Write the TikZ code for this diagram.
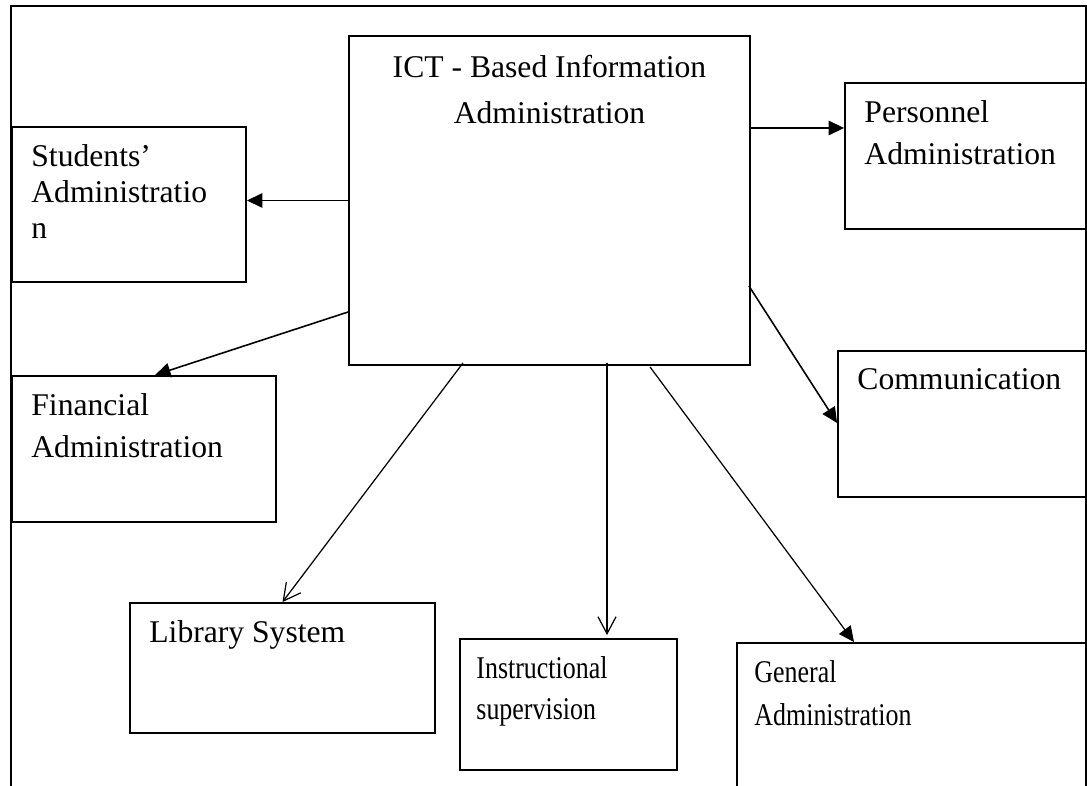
\documentclass[tikz,border=0pt]{standalone}
\usepackage{fontspec}
\setmainfont{Liberation Serif}
\newfontfamily\narrowserif[FakeStretch=0.82]{Liberation Serif}
\usetikzlibrary{arrows.meta, calc}
\newcommand{\blkfont}{\fontsize{18}{24}\selectfont}

\begin{document}
\begin{tikzpicture}[x=0.02cm, y=-0.02cm,
  blk/.style={draw, line width=1.1pt, inner sep=0pt},
  lbl/.style={anchor=north west, align=left, inner xsep=0.4cm, inner ysep=0.36cm, font=\blkfont},
  fillarr/.style={line width=0.9pt, -{Triangle[length=0.31cm, width=0.29cm]}},
  openarr/.style={line width=0.7pt, -{Straight Barb[length=0.34cm, width=0.36cm]}}]
  \useasboundingbox (0,0) rectangle (1087,786);

  % Outer frame, open at the bottom
  \draw[line width=1.1pt] (11,786) -- (11,6) -- (1086,6) -- (1086,786);

  % Central block
  \node[blk, minimum width=8.02cm, minimum height=6.58cm,
    label={[lbl, anchor=north, align=center, inner ysep=0.4cm, font=\fontsize{18}{26}\selectfont]north:ICT - Based Information\\Administration}] (ict) at (549.5,200.5) {};

  % Surrounding blocks
  \node[blk, minimum width=4.68cm, minimum height=3.1cm,
    label={[lbl, font=\fontsize{18}{20.5}\selectfont]north west:Students’\\Administratio\\n}] (stud) at (129,204.5) {};
  \node[blk, minimum width=4.82cm, minimum height=2.92cm,
    label={[lbl]north west:Personnel\\Administration}] (pers) at (965.5,156) {};
  \node[blk, minimum width=4.96cm, minimum height=2.92cm,
    label={[lbl]north west:Communication}] (comm) at (962,424) {};
  \node[blk, minimum width=5.28cm, minimum height=2.92cm,
    label={[lbl]north west:Financial\\Administration}] (fin) at (144,449) {};
  \node[blk, minimum width=6.10cm, minimum height=2.60cm,
    label={[lbl]north west:Library System}] (lib) at (282.5,668) {};
  \node[blk, minimum width=4.34cm, minimum height=2.62cm,
    label={[lbl, inner xsep=0.34cm, font=\narrowserif\fontsize{18}{23.2}\selectfont]north west:Instructional\\supervision}] (instr) at (568.5,704.5) {};
  \node[blk, minimum width=6.98cm, minimum height=3.2cm,
    label={[lbl, inner xsep=0.36cm, font=\narrowserif\fontsize{18}{24.4}\selectfont]north west:General\\Administration}] (gen) at (911.5,723) {};

  % Connectors
  \draw[fillarr] (ict.west) -- (ict.west -| stud.east);
  \draw[fillarr] ($(ict.east)+(-2,-72.5)$) -- ($(pers.west)+(0,-28)$);
  \draw[fillarr] ($(ict.east)+(-2,85.5)$) -- ($(comm.west)+(0,-1)$);
  \draw[fillarr] ($(ict.west)+(0,111.5)$) -- ($(fin.north)+(11,0)$);
  \draw[openarr] ($(ict.south)+(-86.5,-3)$) -- (lib.north);
  \draw[openarr] ($(ict.south)+(57.5,-3)$) -- ($(instr.north)+(38.5,-3)$);
  \draw[fillarr, line width=0.7pt] ($(ict.south)+(100.5,1)$) -- ($(gen.north)+(-57.5,0)$);
\end{tikzpicture}
\end{document}
